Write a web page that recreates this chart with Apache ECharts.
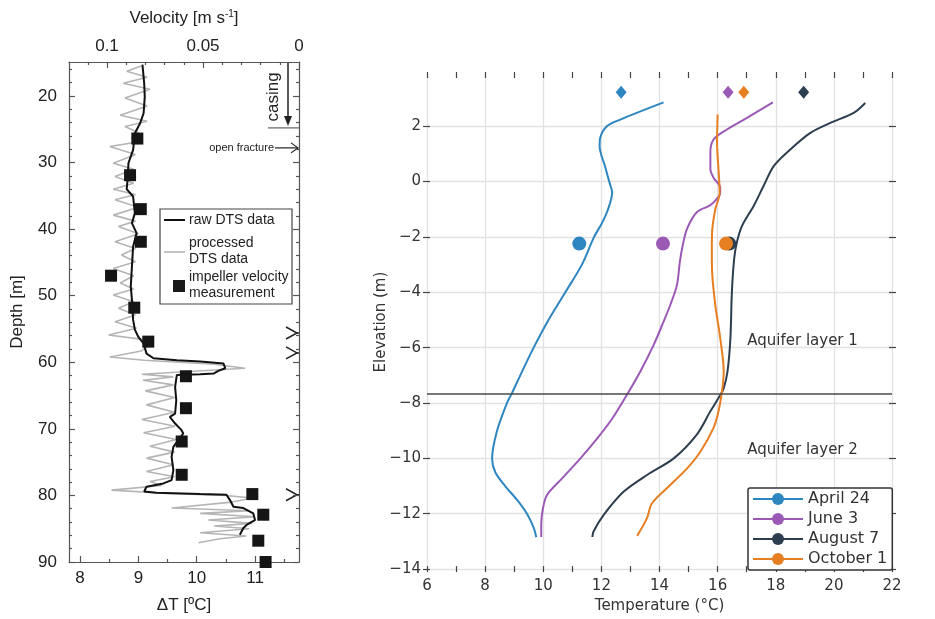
<!DOCTYPE html>
<html>
<head>
<meta charset="utf-8">
<script src="https://cdn.jsdelivr.net/npm/echarts@6/dist/echarts.min.js"></script>
<style>
html, body { margin: 0; padding: 0; background: #fff; }
#chart { width: 935px; height: 619px; }
</style>
</head>
<body>
<div id="chart"></div>
<script>
// ---------- left panel: DTS profile vs depth ----------
var depthTicks = [20, 30, 40, 50, 60, 70, 80, 90];
var depthMinorTicks = [16, 18, 22, 24, 26, 28, 32, 34, 36, 38, 42, 44, 46, 48, 52, 54, 56, 58, 62, 64, 66, 68, 72, 74, 76, 78, 82, 84, 86, 88];
var dTTicks = [8, 9, 10, 11];
var dTMinorTicks = [8.5, 9.5, 10.5, 11.5];
var velTicks = [0, 0.05, 0.1];
var velMinorTicks = [0.01, 0.02, 0.03, 0.04, 0.06, 0.07, 0.08, 0.09, 0.11];

// [deltaT, depth]
var rawDts = [[9.07,15.3],[9.10,18.1],[9.11,20.1],[9.09,22.6],[9.03,24.1],[8.94,25.6],[8.91,28.1],[8.83,30.1],[8.82,32.1],[8.80,34.0],[8.91,35.1],[8.94,37.6],[8.89,39.1],[8.97,40.6],[8.91,42.6],[8.89,45.6],[8.87,48.6],[8.89,50.6],[8.91,53.6],[8.94,55.1],[9.0,56.2],[9.09,57.2],[9.14,58.7],[9.26,59.4],[9.66,59.7],[10.06,59.9],[10.46,60.2],[10.49,60.9],[10.37,61.3],[10.29,61.7],[10.06,61.8],[9.66,61.9],[9.63,63.7],[9.65,65.7],[9.63,67.7],[9.54,68.2],[9.63,69.2],[9.74,70.2],[9.77,70.7],[9.71,71.4],[9.6,72.7],[9.57,74.2],[9.6,76.2],[9.57,77.7],[9.43,78.2],[9.14,78.7],[9.1,79.4],[9.31,79.6],[10.06,79.8],[10.51,79.9],[10.57,80.7],[10.63,81.7],[10.8,81.9],[10.97,82.7],[11.0,83.7],[10.86,84.4],[10.8,84.9],[10.74,85.9]];

var processedDts = [[9.05,15.5],[8.8,16.3],[9.15,17.2],[8.74,18.1],[9.2,19.0],[8.77,20.3],[9.15,21.5],[8.69,22.9],[9.15,23.8],[8.77,24.6],[9.0,25.5],[8.88,26.3],[9.0,26.9],[8.51,27.6],[8.95,28.8],[8.57,30.1],[8.92,31.0],[8.6,32.1],[8.92,33.1],[8.57,34.0],[8.95,34.8],[8.6,35.6],[9.0,36.7],[8.57,37.9],[8.95,38.8],[8.66,39.6],[9.0,40.7],[8.6,41.9],[8.95,42.9],[8.71,43.9],[8.95,44.9],[8.57,45.9],[8.92,47.0],[8.69,48.1],[8.92,49.0],[8.57,49.9],[8.92,50.9],[8.66,51.9],[8.95,52.9],[8.6,53.9],[8.97,54.9],[8.49,55.9],[9.1,56.6],[9.2,57.4],[9.05,58.3],[8.51,59.2],[9.1,59.7],[10.3,60.3],[10.83,60.9],[9.06,61.8],[9.6,62.2],[9.08,62.7],[9.6,63.4],[9.12,64.3],[9.62,65.3],[9.14,66.4],[9.62,67.5],[9.06,68.6],[9.63,69.6],[9.09,70.6],[9.65,71.6],[9.2,72.6],[9.62,73.5],[9.14,74.4],[9.6,75.4],[9.14,76.4],[9.62,77.2],[9.2,77.9],[9.4,78.5],[8.54,79.2],[9.5,79.7],[10.5,80.0],[10.97,80.4],[10.6,81.0],[9.57,81.9],[10.9,82.3],[10.06,82.7],[11.0,83.2],[10.2,83.7],[10.95,84.2],[10.3,84.6],[10.9,85.0],[10.06,85.6],[10.85,86.1],[10.4,86.5],[10.03,87.1]];

var impellerVelocity = [0.0842, 0.088, 0.0824, 0.0824, 0.0979, 0.0858, 0.0785, 0.0589, 0.0589, 0.0611, 0.0611, 0.0243, 0.0186, 0.0212, 0.0174];
var impellerDepth = [26.4, 31.9, 37.0, 41.9, 47.0, 51.8, 56.9, 62.1, 66.9, 71.9, 76.9, 79.8, 82.9, 86.8, 90.0];

var casingDepth = 24.8;
var openFractureDepth = 27.8;
var fractureDepths = [55.6, 58.6, 79.9];

// ---------- right panel: temperature vs elevation ----------
var seasonNames = ['April 24', 'June 3', 'August 7', 'October 1'];
var seasonColors = ['#2e86c1', '#9b59b6', '#2c3e50', '#e67e22'];
var tempTicks = [6, 7, 8, 9, 10, 11, 12, 13, 14, 15, 16, 17, 18, 19, 20, 21, 22];
var elevTicks = [-14, -12, -10, -8, -6, -4, -2, 0, 2];

// [temperature, elevation]
var april24 = [[14.14,2.86],[12.65,2.24],[12.19,2.0],[11.96,1.58],[11.94,1.28],[12.14,0.5],[12.27,0.0],[12.37,-0.4],[12.23,-1.0],[12.02,-1.5],[11.75,-2.0],[11.33,-3.0],[10.76,-4.0],[10.18,-5.0],[9.67,-6.0],[9.21,-7.0],[8.92,-7.65],[8.75,-8.0],[8.41,-9.0],[8.24,-10.0],[8.35,-10.5],[8.69,-11.0],[9.1,-11.5],[9.44,-12.0],[9.67,-12.5],[9.76,-12.85]];
var june3 = [[17.9,2.86],[17.01,2.30],[16.32,1.88],[15.86,1.52],[15.75,1.05],[15.75,0.45],[15.86,0.14],[16.09,-0.22],[16.09,-0.4],[15.98,-0.62],[15.75,-0.85],[15.29,-1.1],[14.95,-1.7],[14.8,-2.3],[14.7,-2.9],[14.6,-3.74],[14.37,-4.46],[14.14,-5.06],[13.8,-5.9],[13.34,-6.86],[12.88,-7.7],[12.37,-8.57],[11.85,-9.29],[11.28,-10.0],[10.65,-10.72],[10.13,-11.32],[9.99,-11.8],[9.93,-12.4],[9.93,-12.84]];
var august7 = [[21.08,2.84],[20.68,2.48],[19.88,2.12],[19.19,1.76],[18.5,1.16],[17.93,0.56],[17.58,-0.16],[17.24,-0.88],[16.84,-1.6],[16.66,-2.2],[16.57,-2.78],[16.49,-4.0],[16.44,-5.66],[16.34,-6.86],[16.21,-7.46],[16.03,-7.82],[15.75,-8.3],[15.29,-9.13],[14.49,-10.0],[13.57,-10.6],[12.77,-11.2],[12.08,-12.04],[11.73,-12.64],[11.69,-12.84]];
var october1 = [[16.0,2.42],[15.98,1.4],[16.03,0.45],[16.07,-0.4],[15.92,-1.0],[15.81,-1.82],[15.8,-2.5],[15.81,-3.26],[15.92,-4.46],[16.09,-5.66],[16.21,-6.86],[16.15,-7.58],[16.03,-8.3],[15.86,-8.9],[15.4,-9.77],[14.95,-10.36],[14.37,-10.96],[13.74,-11.62],[13.57,-12.16],[13.23,-12.8]];
var seasonProfiles = [april24, june3, august7, october1];

var surfaceTemps = [12.68, 16.36, 18.96, 16.9];
var surfaceElev = 3.23;
var wellTemps = [11.24, 14.12, 16.4, 16.29];
var wellElev = -2.24;
var layerBoundary = -7.65;
var layerLabels = [['Aquifer layer 1', 17.02, -5.75], ['Aquifer layer 2', 17.02, -9.71]];

var leftFont = 'Liberation Sans';
var rightFont = 'DejaVu Sans';
var frameStyle = { color: '#555', width: 1.2 };
var tickStyle = { color: '#444', width: 1.2 };

function minusFmt(v) {
	return v < 0 ? '\u2212' + (-v) : String(v);
}

var chart = echarts.init(document.getElementById('chart'));

var seriesList = [
	{
		name: 'processed DTS', type: 'line', xAxisIndex: 0, yAxisIndex: 0,
		data: processedDts, symbol: 'none', z: 2,
		lineStyle: { color: '#b5b5b5', width: 1.6 }
	},
	{
		name: 'raw DTS', type: 'line', xAxisIndex: 0, yAxisIndex: 0,
		data: rawDts, symbol: 'none', z: 3,
		lineStyle: { color: '#111', width: 2 }
	},
	{
		name: 'impeller', type: 'scatter', xAxisIndex: 2, yAxisIndex: 0,
		data: impellerVelocity.map(function (v, i) { return [v, impellerDepth[i]]; }),
		symbol: 'rect', symbolSize: 12, z: 4,
		itemStyle: { color: '#151515', opacity: 1 }
	}
];

seasonNames.forEach(function (name, i) {
	seriesList.push({
		name: name, type: 'line', xAxisIndex: 4, yAxisIndex: 4,
		data: seasonProfiles[i], smooth: 0.3, symbol: 'circle', showSymbol: false,
		color: seasonColors[i],
		lineStyle: { color: seasonColors[i], width: 2 },
		itemStyle: { color: seasonColors[i] }
	});
});

// draw August before October so the orange dot sits on top
var dotOrder = [0, 1, 2, 3];
seriesList.push({
	name: 'surface', type: 'scatter', xAxisIndex: 4, yAxisIndex: 4,
	symbol: 'diamond', symbolSize: [11, 13], z: 5,
	data: dotOrder.map(function (i) {
		return { value: [surfaceTemps[i], surfaceElev], itemStyle: { color: seasonColors[i], opacity: 1 } };
	})
});
seriesList.push({
	name: 'well', type: 'scatter', xAxisIndex: 4, yAxisIndex: 4,
	symbol: 'circle', symbolSize: 14, z: 5,
	data: dotOrder.map(function (i) {
		return { value: [wellTemps[i], wellElev], itemStyle: { color: seasonColors[i], opacity: 1 } };
	}),
	markLine: {
		silent: true, symbol: ['none', 'none'], label: { show: false },
		lineStyle: { color: '#4a4a4a', width: 1.6, type: 'solid' },
		data: [{ yAxis: layerBoundary }]
	}
});

var option = {
	backgroundColor: '#fff',
	animation: false,
	grid: [
		{ left: 69, top: 62, width: 230, height: 500 },
		{ left: 427, top: 75, width: 465, height: 497 }
	],
	xAxis: [
		{
			gridIndex: 0, type: 'value', position: 'bottom', min: 7.811, max: 11.754,
			axisLine: { show: true, onZero: false, lineStyle: frameStyle },
			axisTick: { inside: true, length: 6, customValues: dTTicks, lineStyle: frameStyle },
			axisLabel: { customValues: dTTicks, margin: 8, fontSize: 17, color: '#222', fontFamily: leftFont },
			splitLine: { show: false },
			name: '\u0394T [\u00baC]', nameLocation: 'middle', nameGap: 35,
			nameTextStyle: { fontSize: 17, color: '#222', fontFamily: leftFont }
		},
		{
			gridIndex: 0, type: 'value', position: 'bottom', min: 7.811, max: 11.754,
			axisLine: { show: false, onZero: false },
			axisTick: { inside: true, length: 3, customValues: dTMinorTicks, lineStyle: frameStyle },
			axisLabel: { show: false }, splitLine: { show: false }
		},
		{
			gridIndex: 0, type: 'value', position: 'top', min: 0, max: 0.1198, inverse: true,
			axisLine: { show: true, onZero: false, lineStyle: frameStyle },
			axisTick: { inside: true, length: 6, customValues: velTicks, lineStyle: frameStyle },
			axisLabel: { customValues: velTicks, margin: 7, fontSize: 17, color: '#222', fontFamily: leftFont },
			splitLine: { show: false },
			name: 'Velocity [m s{sup|-1}]', nameLocation: 'middle', nameGap: 34, nameMoveOverlap: false,
			nameTextStyle: {
				fontSize: 17, color: '#222', fontFamily: leftFont,
				rich: { sup: { fontSize: 10, fontFamily: leftFont, color: '#222', padding: [0, 0, 9, 0] } }
			}
		},
		{
			gridIndex: 0, type: 'value', position: 'top', min: 0, max: 0.1198, inverse: true,
			axisLine: { show: false, onZero: false },
			axisTick: { inside: true, length: 3, customValues: velMinorTicks, lineStyle: frameStyle },
			axisLabel: { show: false }, splitLine: { show: false }
		},
		{
			gridIndex: 1, type: 'value', position: 'bottom', min: 6, max: 22, interval: 2,
			axisLine: { show: false, onZero: false }, axisTick: { show: false },
			axisLabel: { margin: 10, fontSize: 15, color: '#333', fontFamily: rightFont },
			splitLine: { show: true, lineStyle: { color: '#e2e2e2', width: 1.3 } },
			name: 'Temperature (\u00b0C)', nameLocation: 'middle', nameGap: 23,
			nameTextStyle: { fontSize: 15, color: '#333', fontFamily: rightFont }
		},
		{
			gridIndex: 1, type: 'value', position: 'bottom', min: 6, max: 22, offset: -3,
			axisLine: { show: false, onZero: false },
			axisTick: { length: 6, customValues: tempTicks, lineStyle: tickStyle },
			axisLabel: { show: false }, splitLine: { show: false }
		},
		{
			gridIndex: 1, type: 'value', position: 'top', min: 6, max: 22, offset: -3,
			axisLine: { show: false, onZero: false },
			axisTick: { length: 6, customValues: tempTicks, lineStyle: tickStyle },
			axisLabel: { show: false }, splitLine: { show: false }
		}
	],
	yAxis: [
		{
			gridIndex: 0, type: 'value', position: 'left', min: 14.9, max: 90, inverse: true,
			axisLine: { show: true, onZero: false, lineStyle: frameStyle },
			axisTick: { inside: true, length: 6, customValues: depthTicks, lineStyle: frameStyle },
			axisLabel: { customValues: depthTicks, margin: 12, fontSize: 17, color: '#222', fontFamily: leftFont },
			splitLine: { show: false },
			name: 'Depth [m]', nameLocation: 'middle', nameGap: 43,
			nameTextStyle: { fontSize: 17, color: '#222', fontFamily: leftFont }
		},
		{
			gridIndex: 0, type: 'value', position: 'left', min: 14.9, max: 90, inverse: true,
			axisLine: { show: false, onZero: false },
			axisTick: { inside: true, length: 3, customValues: depthMinorTicks, lineStyle: frameStyle },
			axisLabel: { show: false }, splitLine: { show: false }
		},
		{
			gridIndex: 0, type: 'value', position: 'right', min: 14.9, max: 90, inverse: true,
			axisLine: { show: true, onZero: false, lineStyle: frameStyle },
			axisTick: { inside: true, length: 6, customValues: depthTicks, lineStyle: frameStyle },
			axisLabel: { show: false }, splitLine: { show: false }
		},
		{
			gridIndex: 0, type: 'value', position: 'right', min: 14.9, max: 90, inverse: true,
			axisLine: { show: false, onZero: false },
			axisTick: { inside: true, length: 3, customValues: depthMinorTicks, lineStyle: frameStyle },
			axisLabel: { show: false }, splitLine: { show: false }
		},
		{
			gridIndex: 1, type: 'value', position: 'left', min: -14, max: 3.85,
			axisLine: { show: false, onZero: false },
			axisTick: { show: false, customValues: elevTicks },
			axisLabel: { customValues: elevTicks, formatter: minusFmt, margin: 6, fontSize: 15, color: '#333', fontFamily: rightFont },
			splitLine: { show: true, lineStyle: { color: '#e2e2e2', width: 1.3 } },
			name: 'Elevation (m)', nameLocation: 'middle', nameGap: 38, nameMoveOverlap: false,
			nameTextStyle: { fontSize: 15, color: '#333', fontFamily: rightFont }
		},
		{
			gridIndex: 1, type: 'value', position: 'left', min: -14, max: 3.85, offset: -3,
			axisLine: { show: false, onZero: false },
			axisTick: { length: 7, customValues: elevTicks, lineStyle: tickStyle },
			axisLabel: { show: false }, splitLine: { show: false }
		},
		{
			gridIndex: 1, type: 'value', position: 'right', min: -14, max: 3.85, offset: -3,
			axisLine: { show: false, onZero: false },
			axisTick: { length: 7, customValues: elevTicks, lineStyle: tickStyle },
			axisLabel: { show: false }, splitLine: { show: false }
		}
	],
	legend: [{
		data: seasonNames, orient: 'vertical', left: 748, top: 488,
		itemWidth: 50, itemHeight: 15, itemGap: 4, selectedMode: false,
		padding: [3, 5, 3, 4], borderColor: '#333', borderWidth: 1.5, borderRadius: 2,
		backgroundColor: '#fff',
		textStyle: { fontSize: 16, color: '#333', fontFamily: rightFont }
	}],
	series: seriesList
};

chart.setOption(option);

// annotations placed through the axes
function px(xi, yi, pt) {
	return chart.convertToPixel({ xAxisIndex: xi, yAxisIndex: yi }, pt);
}
var xRight = px(0, 0, [11.754, 20])[0];
var yTop = px(0, 0, [9, 14.9])[1];
var yCasing = px(0, 0, [9, casingDepth])[1];
var yFracture = px(0, 0, [9, openFractureDepth])[1];
var ink = '#222';
var g = [];

// casing arrow
var ax = xRight - 11;
g.push({ type: 'line', shape: { x1: ax, y1: yTop, x2: ax, y2: yCasing - 10 }, style: { stroke: ink, lineWidth: 1.5 } });
g.push({ type: 'polygon', shape: { points: [[ax - 4, yCasing - 12], [ax + 4, yCasing - 12], [ax, yCasing - 2]] }, style: { fill: ink } });
g.push({ type: 'line', shape: { x1: xRight - 31, y1: yCasing, x2: xRight, y2: yCasing }, style: { stroke: '#444', lineWidth: 1 } });
g.push({
	type: 'text', x: xRight - 26, y: (yTop + yCasing) / 2 + 2, rotation: Math.PI / 2,
	style: { text: 'casing', font: '17px ' + leftFont, fill: ink, align: 'center', verticalAlign: 'middle' }
});

// open fracture
g.push({ type: 'text', x: xRight - 25, y: yFracture, style: { text: 'open fracture', font: '11px ' + leftFont, fill: ink, align: 'right', verticalAlign: 'middle' } });
g.push({ type: 'line', shape: { x1: xRight - 24, y1: yFracture, x2: xRight - 1, y2: yFracture }, style: { stroke: ink, lineWidth: 1.2 } });
g.push({ type: 'polyline', shape: { points: [[xRight - 8, yFracture - 5], [xRight - 1, yFracture], [xRight - 8, yFracture + 5]] }, style: { stroke: ink, lineWidth: 1.2, fill: null } });

// fracture chevrons on the right edge
fractureDepths.forEach(function (d) {
	var y = px(0, 0, [9, d])[1];
	g.push({ type: 'polyline', shape: { points: [[xRight - 13, y - 6], [xRight - 2, y], [xRight - 13, y + 6]] }, style: { stroke: ink, lineWidth: 1.5, fill: null } });
	g.push({ type: 'line', shape: { x1: xRight - 2, y1: y, x2: xRight, y2: y }, style: { stroke: ink, lineWidth: 1.5 } });
});

// left legend box
var lgx = 160, lgy = 209;
var lf = '14px ' + leftFont;
g.push({ type: 'rect', shape: { x: lgx, y: lgy, width: 132, height: 95 }, style: { fill: '#fff', stroke: '#444', lineWidth: 1.2 }, z: 10 });
g.push({ type: 'line', shape: { x1: lgx + 4, y1: lgy + 11, x2: lgx + 25, y2: lgy + 11 }, style: { stroke: '#111', lineWidth: 2 }, z: 11 });
g.push({ type: 'text', x: lgx + 29, y: lgy + 11, style: { text: 'raw DTS data', font: lf, fill: ink, verticalAlign: 'middle' }, z: 11 });
g.push({ type: 'line', shape: { x1: lgx + 4, y1: lgy + 43, x2: lgx + 25, y2: lgy + 43 }, style: { stroke: '#b5b5b5', lineWidth: 1.6 }, z: 11 });
g.push({ type: 'text', x: lgx + 29, y: lgy + 34, style: { text: 'processed', font: lf, fill: ink, verticalAlign: 'middle' }, z: 11 });
g.push({ type: 'text', x: lgx + 29, y: lgy + 50, style: { text: 'DTS data', font: lf, fill: ink, verticalAlign: 'middle' }, z: 11 });
g.push({ type: 'rect', shape: { x: lgx + 13, y: lgy + 71, width: 12, height: 12 }, style: { fill: '#1a1a1a' }, z: 11 });
g.push({ type: 'text', x: lgx + 29, y: lgy + 68, style: { text: 'impeller velocity', font: lf, fill: ink, verticalAlign: 'middle' }, z: 11 });
g.push({ type: 'text', x: lgx + 29, y: lgy + 84, style: { text: 'measurement', font: lf, fill: ink, verticalAlign: 'middle' }, z: 11 });

// aquifer layer labels
layerLabels.forEach(function (l) {
	var p = px(4, 4, [l[1], l[2]]);
	g.push({ type: 'text', x: p[0], y: p[1], style: { text: l[0], font: '15px ' + rightFont, fill: '#333', verticalAlign: 'middle' } });
});

chart.setOption({ graphic: g });
</script>
</body>
</html>
